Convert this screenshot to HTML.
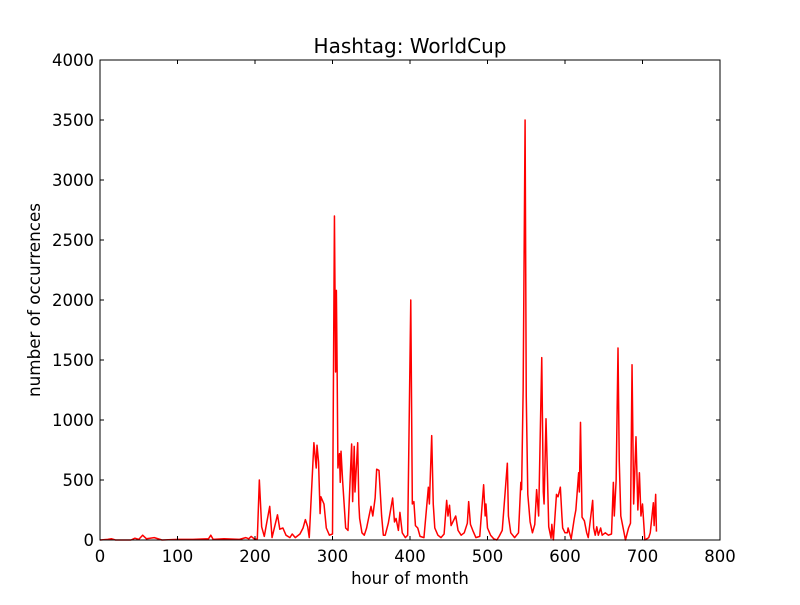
<!DOCTYPE html>
<html><head><meta charset="utf-8"><style>
body{margin:0;background:#fff;}
svg text{font-family:"DejaVu Sans","Liberation Sans",sans-serif;}
</style></head><body>
<svg id="chart" width="800" height="600" xmlns="http://www.w3.org/2000/svg">
<rect width="800" height="600" fill="#fff"/>
<text x="410" y="53" font-size="20" text-anchor="middle">Hashtag: WorldCup</text>
<g id="marks"></g>
<g id="axes"></g>
<text x="410" y="584" font-size="16.5" text-anchor="middle">hour of month</text>
<text transform="translate(40,300) rotate(-90)" font-size="16.8" text-anchor="middle">number of occurrences</text>
</svg>
<script>
const hours=[0,10,15,20,40,45,50,55,60,70,80,100,120,140,143,146,160,180,188,192,195,200,203,205.6,208.6,212,215,219,222,229,232,236,240,245,248,252,258,262,265,268,270,276,279,280,282,284,285,289,292,296,300,302.5,304,305,306,307,309,310,311,313,315,317,320,324.7,326,328,329,332.5,334,335,338,341,344,349.7,352,355,357,360,363.4,365.6,368,372,377.6,380,382,385,387,390,394,397,401,403,405,407,410,413,418,423.7,425,428,430,432,436,440,444,447.3,449,451,453,459,462,466,470,474,475.7,478,481,485,490,495,497,498,500,504,508,512,515,519,525.6,527,530,535,540,543,544,546,548.5,550,552,555,558,561,563.4,566,570,572,573,575.5,579,582,583,585,589,591,594,596,597,600,603,604,608,612,614,617.6,618.5,620,622,625,628,630,635.7,637,639,641,643,646,648,652,656,660,662.4,663.6,666,668.4,670,672,675,678,682,684.5,686.5,688.6,691.6,694,696,698,700,703,708,710,714,715,717,718];
const counts=[0,5,10,0,0,15,5,40,10,20,0,5,5,10,40,5,10,5,20,10,30,5,10,500,110,30,140,280,20,210,90,100,40,20,50,20,50,100,170,110,20,810,600,790,650,220,360,300,100,40,50,2700,1400,2080,1400,600,720,480,740,500,300,100,80,800,320,780,400,810,300,180,60,40,100,280,200,350,590,580,200,40,40,140,350,150,180,80,230,60,20,40,2000,300,320,120,100,30,20,440,300,870,300,100,40,20,50,330,200,290,120,200,80,40,60,140,320,130,80,20,30,460,200,300,100,40,10,0,30,80,640,200,60,20,60,480,420,1250,3500,1200,380,150,60,130,420,200,1520,400,300,1010,110,15,130,0,380,360,440,200,100,60,60,100,10,180,250,560,400,980,190,160,60,20,330,100,40,110,40,100,40,60,40,50,480,200,500,1600,660,200,100,0,100,140,1460,300,860,250,560,200,300,0,20,60,310,120,380,70];
const xTicks=[0,100,200,300,400,500,600,700,800];
const yTicks=[0,500,1000,1500,2000,2500,3000,3500,4000];
const L=100,R=720,T=60,B=540;
const xs=v=>L+(v-0)/800*(R-L);
const ys=v=>B-v/4000*(B-T);
const NS="http://www.w3.org/2000/svg";
const marks=document.getElementById('marks'),axes=document.getElementById('axes');
function mk(tag,attrs,parent){const e=document.createElementNS(NS,tag);for(const k in attrs)e.setAttribute(k,attrs[k]);parent.appendChild(e);return e;}
const line=mk('polyline',{points:hours.map((h,i)=>xs(h).toFixed(2)+','+ys(counts[i]).toFixed(2)).join(' '),fill:'none',stroke:'#ff0000','stroke-width':1.5,'stroke-linejoin':'round'},marks);


const frame=mk('rect',{x:L,y:T,width:R-L,height:B-T,fill:'none',stroke:'#000','stroke-width':1},axes);


xTicks.forEach(t=>{const x=xs(t);
mk('line',{x1:x,x2:x,y1:B,y2:B-4,stroke:'#000'},axes);
mk('line',{x1:x,x2:x,y1:T,y2:T+4,stroke:'#000'},axes);
const tx=mk('text',{x:x,y:B+22,'font-size':16.5,'text-anchor':'middle'},axes);tx.textContent=t;

});
yTicks.forEach(t=>{const y=ys(t);
mk('line',{x1:L,x2:L+4,y1:y,y2:y,stroke:'#000'},axes);
mk('line',{x1:R,x2:R-4,y1:y,y2:y,stroke:'#000'},axes);
const tx=mk('text',{x:L-6,y:y+6,'font-size':16.5,'text-anchor':'end'},axes);tx.textContent=t;

});
</script>
</body></html>
